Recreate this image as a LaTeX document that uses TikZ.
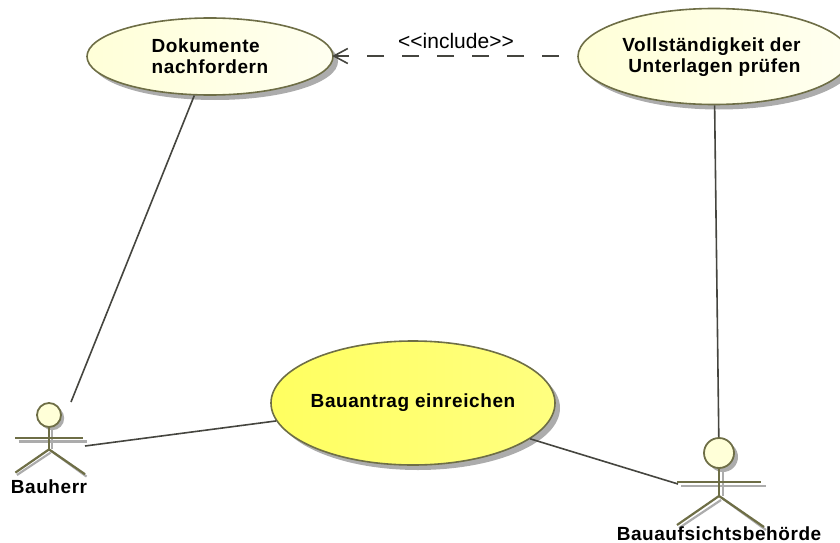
\documentclass[tikz,border=0pt]{standalone}
\usepackage{fontspec}
\setmainfont{Liberation Sans}
\newfontfamily\labelfont[LetterSpace=3]{Liberation Sans}
\usetikzlibrary{shapes.geometric,shadows}
\definecolor{umlborder}{HTML}{6E6E46}
\definecolor{umlline}{HTML}{45453F}
\definecolor{umlpale}{HTML}{FFFFD8}
\definecolor{umlpaler}{HTML}{FFFFF0}
\definecolor{umlstrong}{HTML}{FFFF60}
\definecolor{umlstrongr}{HTML}{FFFF80}
\definecolor{umlshadow}{HTML}{ACACAC}
\tikzset{
  usecase/.style={ellipse,draw=umlborder,line width=1.6pt,inner sep=0pt,
    drop shadow={shadow xshift=5pt,shadow yshift=-5pt,opacity=1,fill=umlshadow}},
  casetext/.style={font=\labelfont\bfseries\fontsize{19}{21}\selectfont,inner sep=0pt},
  assoc/.style={umlline,line width=1.6pt},
  limb/.style={umlborder,line width=2.2pt},
  limbshadow/.style={umlshadow,line width=2.2pt},
  actorname/.style={font=\labelfont\bfseries\fontsize{19}{21}\selectfont,inner sep=0pt}
}
\begin{document}
\begin{tikzpicture}[x=1pt,y=-1pt]
\newcommand{\myactor}[4]{
\begin{scope}[shift={(#2,#3)},scale=#4]
%Shadow first
\fill[umlshadow] (4,4) circle (15);
\draw[limbshadow] (4,18) -- (4,43);
\draw[limbshadow] (-38,33) -- (47,33);
\draw[limbshadow] (2,47) -- (-40,75);
\draw[limbshadow] (3,45) -- (47,77);
%The stick figure
\draw[limb] (0,15) -- (0,43);
\draw[limb] (-42,29) -- (42,29);
\draw[limb] (0,43) -- (-42,72);
\draw[limb] (0,43) -- (45,74);
\node[circle,draw=umlborder,line width=1.8pt,fill=umlpale,minimum size=#4*30pt,inner sep=0pt] (#1) at (0,0) {};
\end{scope}
}
\useasboundingbox (0,0) rectangle (840,543);
\clip (0,0) rectangle (840,543);
%Use cases
\node[usecase,left color=umlpale,right color=umlpaler,minimum width=246pt,minimum height=77pt] (dokumente) at (210,56.5) {};
\node[usecase,left color=umlpale,right color=umlpaler,minimum width=272pt,minimum height=96pt] (vollstaendigkeit) at (714,56.5) {};
\node[usecase,left color=umlstrong,right color=umlstrongr,minimum width=284pt,minimum height=124pt] (bauantrag) at (413,403) {};
\node[casetext,align=left] (dokumenteText) at (dokumente) {Dokumente\\nachfordern};
\node[casetext,align=left] (vollstaendigkeitText) at (711.5,57) {Vollständigkeit der\\\hspace*{6pt}Unterlagen prüfen};
\node[casetext] (bauantragText) at (bauantrag) {Bauantrag einreichen};
%Actors
\myactor{bauherr}{49}{415}{0.8}
\myactor{behoerde}{719}{453}{1}
\node[actorname] (bauherrName) at (49,487) {Bauherr};
\node[actorname] (behoerdeName) at (719,533.5) {Bauaufsichtsbehörde};
%Free ends of the associations
\coordinate (bauherrTop) at (71,402);
\coordinate (bauherrArm) at (85,446);
\coordinate (behoerdeArm) at (678,484);
%Associations
\draw[assoc] (dokumente) -- (bauherrTop);
\draw[assoc] (bauantrag) -- (bauherrArm);
\draw[assoc] (bauantrag) -- (behoerdeArm);
\draw[assoc] (vollstaendigkeit) -- (behoerde);
%Include
\coordinate (includeStart) at ([yshift=0.5pt]vollstaendigkeit.west);
\coordinate (includeEnd) at ([yshift=0.5pt]dokumente.east);
\draw[assoc,dash pattern=on 17pt off 18pt,dash phase=17pt] (includeStart) -- (includeEnd);
\draw[assoc] (includeEnd) ++(14,-7.5) -- (includeEnd) -- ++(14,7.5);
\node[black,font=\fontsize{21}{22}\selectfont] (includeLabel) at (456,41) {{<}{<}include{>}{>}};
\end{tikzpicture}
\end{document}
